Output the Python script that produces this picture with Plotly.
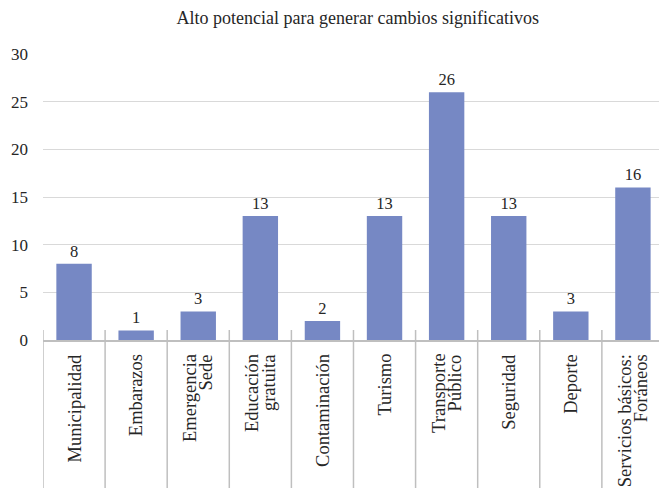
import plotly.graph_objects as go

# Categories (multi-word labels wrap onto two lines) and their counts
categories = [
    "Municipalidad",
    "Embarazos",
    "Emergencia<br>Sede",
    "Educación<br>gratuita",
    "Contaminación",
    "Turismo",
    "Transporte<br>Público",
    "Seguridad",
    "Deporte",
    "Servicios básicos:<br>Foráneos",
]
values = [8, 1, 3, 13, 2, 13, 26, 13, 3, 16]
y_ticks = [0, 5, 10, 15, 20, 25, 30]

title_text = "Alto potencial para generar cambios significativos"

SERIF = "Liberation Serif"
BAR_COLOR = "#7688C4"
GRID = "#D9D9D9"
AXIS = "#BFBFBF"
TEXT = "#262626"

PLOT_H = 286          # plot-area height in px
LABEL_GAP = 12        # px between axis and category text
LINE_STEP = 16.5      # px between wrapped lines of a rotated label

positions = list(range(len(categories)))

fig = go.Figure(
    go.Bar(
        x=positions,
        y=values,
        marker=dict(color=BAR_COLOR, line=dict(width=0)),
        text=[str(v) for v in values],
        textposition="outside",
        cliponaxis=False,
        textfont=dict(family=SERIF, size=16.5, color=TEXT),
        hoverinfo="skip",
    )
)

# Category separators: short stub above the axis, running down past the labels
shapes = []
for k in range(len(categories) + 1):
    shapes.append(
        dict(
            type="line",
            xref="x",
            yref="paper",
            x0=k - 0.5,
            x1=k - 0.5,
            y0=10 / PLOT_H,
            y1=-0.6,
            line=dict(color=AXIS, width=1.5),
            layer="above",
        )
    )

# Rotated category labels, one annotation per line so the wrap stays tight
annotations = []
for k, label in zip(positions, categories):
    lines = label.split("<br>")
    n = len(lines)
    for j, line in enumerate(lines):
        annotations.append(
            dict(
                text=line,
                x=k,
                xref="x",
                y=-LABEL_GAP / PLOT_H,
                yref="paper",
                xanchor="center",
                yanchor="top",
                xshift=(j - (n - 1) / 2) * LINE_STEP,
                textangle=-90,
                showarrow=False,
                font=dict(family=SERIF, size=18.5, color=TEXT),
            )
        )

fig.update_layout(
    width=659,
    height=488,
    margin=dict(l=43, r=0, t=54, b=148),
    paper_bgcolor="white",
    plot_bgcolor="white",
    showlegend=False,
    bargap=0.43,
    shapes=shapes,
    annotations=annotations,
    title=dict(
        text=title_text,
        font=dict(family=SERIF, size=18, color=TEXT),
        x=0.511,
        xanchor="center",
        xref="paper",
        y=1 - 18 / 488,
        yref="container",
        yanchor="middle",
    ),
    font=dict(family=SERIF, color=TEXT),
)

fig.update_xaxes(
    tickmode="array",
    tickvals=positions,
    showticklabels=False,
    range=[-0.5, 9.42],
    showgrid=False,
    showline=True,
    linecolor=AXIS,
    linewidth=1.5,
    ticks="",
    zeroline=False,
)

fig.update_yaxes(
    range=[0, 30],
    tickmode="array",
    tickvals=y_ticks,
    tickfont=dict(family=SERIF, size=17, color=TEXT),
    showgrid=True,
    gridcolor=GRID,
    gridwidth=1.3,
    zeroline=False,
    showline=False,
    ticks="",
    ticklabelstandoff=14,
)

fig.write_html("out.html")
